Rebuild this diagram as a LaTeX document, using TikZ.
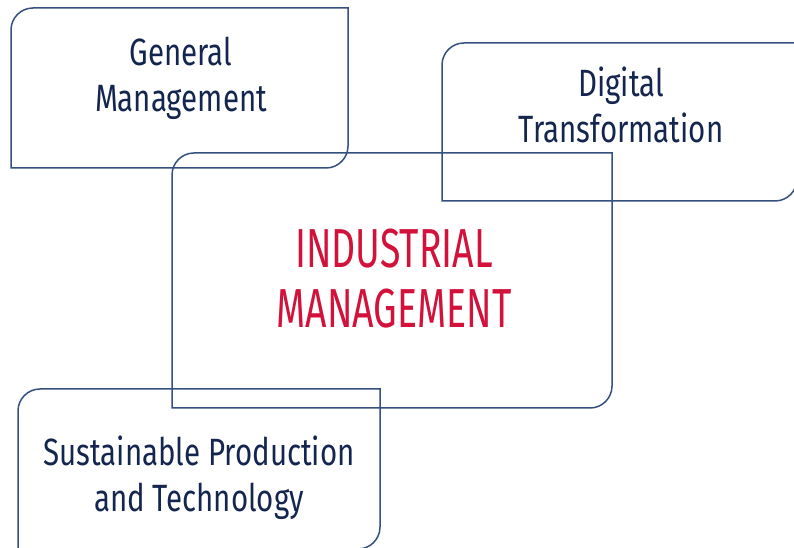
\documentclass[tikz,border=0pt]{standalone}
\usepackage{fontspec}
\newfontfamily\labelfont[FakeStretch=0.775]{Fira Sans}
\newfontfamily\titlefont[FakeStretch=0.68]{Fira Sans}
\definecolor{frame}{HTML}{34507E}
\definecolor{navy}{HTML}{14264F}
\definecolor{crimson}{HTML}{D2123A}
\tikzset{
  panel/.style={draw=frame, line width=1.5pt},
  label/.style={anchor=base, inner sep=0pt, align=center, text=navy,
    font=\labelfont\fontsize{38}{46}\selectfont},
  title/.style={anchor=base, inner sep=0pt, align=center, text=crimson,
    font=\titlefont\fontsize{55}{60}\selectfont},
}
% panel with rounded top-left and bottom-right corners: {left}{right}{top}{bottom}
\newcommand{\panelbox}[4]{%
  \draw[panel] (#1,#4) -- (#1,#3-22) arc[start angle=180, end angle=90, radius=22pt]
    -- (#2,#3) -- (#2,#4+22) arc[start angle=0, end angle=-90, radius=22pt] -- cycle;}
\begin{document}
\begin{tikzpicture}[x=1pt,y=1pt]
  \useasboundingbox (0,0) rectangle (794,548);
  \clip (0,0) rectangle (794,548);
  \panelbox{11}{348}{540}{380}
  \panelbox{442}{797}{505}{347}
  \panelbox{172}{612}{395}{140}
  \panelbox{18}{380}{159}{-1}
  \node[label] (gm) at (181,436) {General\\Management};
  \node[label] (dt) at (621,405) {Digital\\Transformation};
  \node[title] (im) at (394,220) {INDUSTRIAL\\MANAGEMENT};
  \node[label] (sp) at (199,36) {Sustainable Production\\and Technology};
\end{tikzpicture}
\end{document}
